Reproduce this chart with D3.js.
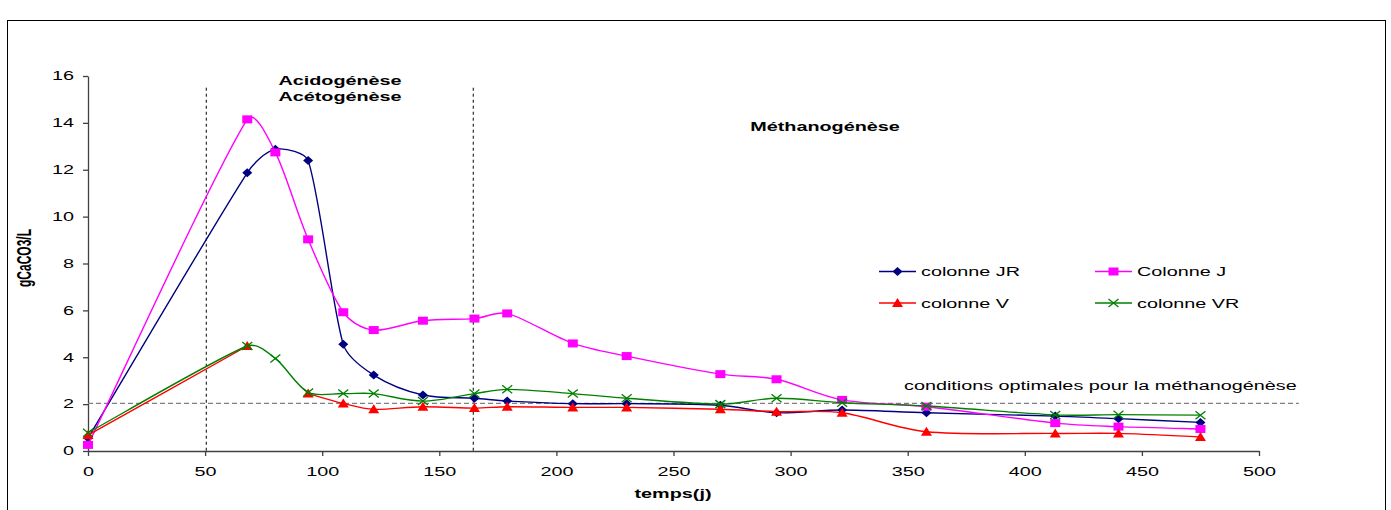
<!DOCTYPE html>
<html>
<head>
<meta charset="utf-8">
<script src="https://cdn.jsdelivr.net/npm/d3@7"></script>
<style>
  body { margin: 0; background: #fff; }
  svg { font-family: "Liberation Sans", Arial, sans-serif; }
</style>
</head>
<body>
<div id="chart"></div>
<script>
// temps (jours) et concentrations (gCaCO3/L)
var jours = [0, 68, 80, 94, 109, 122, 143, 165, 179, 207, 230, 270, 294, 322, 358, 413, 440, 475];
var colonneJR = [0.55, 11.87, 12.87, 12.39, 4.55, 3.24, 2.39, 2.25, 2.13, 2.02, 2.02, 1.95, 1.63, 1.75, 1.63, 1.49, 1.38, 1.22];
var colonneJ = [0.26, 14.15, 12.74, 9.03, 5.92, 5.16, 5.56, 5.65, 5.87, 4.59, 4.05, 3.28, 3.06, 2.18, 1.89, 1.19, 1.04, 0.94];
var colonneV = [0.68, 4.48, null, 2.45, 2.03, 1.78, 1.89, 1.83, 1.89, 1.86, 1.86, 1.78, 1.68, 1.63, 0.82, 0.75, 0.75, 0.60];
var colonneVR = [0.78, 4.48, 3.95, 2.50, 2.45, 2.45, 2.13, 2.45, 2.63, 2.45, 2.25, 2.00, 2.25, 2.06, 1.92, 1.54, 1.55, 1.53];

var xTicks = [0, 50, 100, 150, 200, 250, 300, 350, 400, 450, 500];
var yTicks = [0, 2, 4, 6, 8, 10, 12, 14, 16];

// limites des phases et seuil optimal
var phases = [50.5, 164.5];
var seuilOptimal = 2.03;
var seuilFin = 517;

var series = [
	{nom: "colonne JR", valeurs: colonneJR, couleur: "#000080", marqueur: "losange"},
	{nom: "Colonne J", valeurs: colonneJ, couleur: "#FF00FF", marqueur: "carre"},
	{nom: "colonne V", valeurs: colonneV, couleur: "#FF0000", marqueur: "triangle"},
	{nom: "colonne VR", valeurs: colonneVR, couleur: "#008000", marqueur: "croix"}
];

var W = 1391, H = 510;
var SX = 1.65; // le graphique d'origine est étiré horizontalement

var svg = d3.select("#chart").append("svg")
	.attr("width", W)
	.attr("height", H);

// cadre du graphique
svg.append("rect")
	.attr("x", 7.5).attr("y", 20.5)
	.attr("width", 1378).attr("height", 520)
	.attr("fill", "none")
	.attr("stroke", "#000")
	.attr("stroke-width", 1);

var x = d3.scaleLinear().domain([0, 500]).range([88, 1259]);
var y = d3.scaleLinear().domain([0, 16]).range([451, 76]);

function texte(px, py, str, opts) {
	opts = opts || {};
	return svg.append("text")
		.attr("transform", "translate(" + px + "," + py + ") scale(" + SX + ",1)")
		.attr("text-anchor", opts.anchor || "start")
		.attr("font-size", opts.size || 12)
		.attr("font-weight", opts.bold ? "bold" : "normal")
		.attr("fill", "#000")
		.text(str);
}

// axes
var axeX = svg.append("g")
	.attr("transform", "translate(0," + y(0) + ")")
	.call(d3.axisBottom(x).tickValues(xTicks).tickSize(5).tickPadding(11).tickSizeOuter(0));
var axeY = svg.append("g")
	.attr("transform", "translate(" + x(0) + ",0)")
	.call(d3.axisLeft(y).tickValues(yTicks).tickSize(5).tickPadding(3.5).tickSizeOuter(0));

[axeX, axeY].forEach(function(a) {
	a.select(".domain").attr("stroke", "#404040").attr("stroke-width", 1.3);
	a.selectAll(".tick line").attr("stroke", "#404040").attr("stroke-width", 1.3);
	a.selectAll(".tick text")
		.attr("font-size", 12)
		.attr("font-family", "Liberation Sans, Arial, sans-serif")
		.attr("fill", "#000")
		.attr("transform", "scale(" + SX + ",1)");
});

// lignes de séparation des phases
phases.forEach(function(p) {
	svg.append("line")
		.attr("x1", x(p)).attr("x2", x(p))
		.attr("y1", y(15.5)).attr("y2", y(0))
		.attr("stroke", "#000")
		.attr("stroke-width", 1)
		.attr("stroke-dasharray", "3,3");
});

// seuil des conditions optimales
svg.append("line")
	.attr("x1", x(0)).attr("x2", x(seuilFin))
	.attr("y1", y(seuilOptimal)).attr("y2", y(seuilOptimal))
	.attr("stroke", "#808080")
	.attr("stroke-width", 1.3)
	.attr("stroke-dasharray", "5,3");

// lissage type tableur : Bézier de Catmull-Rom (1/6) dont les poignées
// sont limitées par la longueur du segment, calculé sur le repère non étiré
function lissage(pts) {
	if (pts.length < 2) return "";
	var k = 1 / 3;
	var d = "M" + pts[0][0] + "," + pts[0][1];
	for (var i = 0; i < pts.length - 1; i++) {
		var p0 = pts[i - 1] || pts[i];
		var p1 = pts[i];
		var p2 = pts[i + 1];
		var p3 = pts[i + 2] || pts[i + 1];
		var t1 = [(p2[0] - p0[0]) / 6 / SX, (p2[1] - p0[1]) / 6];
		var t2 = [(p3[0] - p1[0]) / 6 / SX, (p3[1] - p1[1]) / 6];
		var L = Math.hypot((p2[0] - p1[0]) / SX, p2[1] - p1[1]);
		[t1, t2].forEach(function(t) {
			var l = Math.hypot(t[0], t[1]);
			if (l > L * k) {
				t[0] *= L * k / l;
				t[1] *= L * k / l;
			}
		});
		d += "C" + (p1[0] + t1[0] * SX) + "," + (p1[1] + t1[1]) + " " +
			(p2[0] - t2[0] * SX) + "," + (p2[1] - t2[1]) + " " +
			p2[0] + "," + p2[1];
	}
	return d;
}

function dessinerMarqueur(g, type, couleur, px, py) {
	if (type == "losange") {
		g.append("path")
			.attr("d", "M" + px + "," + (py - 4.5) + "L" + (px + 5) + "," + py + "L" + px + "," + (py + 4.5) + "L" + (px - 5) + "," + py + "Z")
			.attr("fill", couleur);
	} else if (type == "carre") {
		g.append("rect")
			.attr("x", px - 5).attr("y", py - 4)
			.attr("width", 10).attr("height", 8)
			.attr("fill", couleur);
	} else if (type == "triangle") {
		g.append("path")
			.attr("d", "M" + px + "," + (py - 5) + "L" + (px + 5.5) + "," + (py + 4) + "L" + (px - 5.5) + "," + (py + 4) + "Z")
			.attr("fill", couleur);
	} else if (type == "croix") {
		g.append("path")
			.attr("d", "M" + (px - 5) + "," + (py - 4) + "L" + (px + 5) + "," + (py + 4) + "M" + (px - 5) + "," + (py + 4) + "L" + (px + 5) + "," + (py - 4))
			.attr("stroke", couleur)
			.attr("stroke-width", 1.3)
			.attr("fill", "none");
	}
}

series.forEach(function(s) {
	var g = svg.append("g");
	// découpage aux valeurs manquantes
	var troncons = [[]];
	jours.forEach(function(j, i) {
		var v = s.valeurs[i];
		if (v == null) {
			troncons.push([]);
		} else {
			troncons[troncons.length - 1].push([x(j), y(v)]);
		}
	});
	troncons.forEach(function(t) {
		if (t.length < 2) return;
		g.append("path")
			.attr("d", lissage(t))
			.attr("fill", "none")
			.attr("stroke", s.couleur)
			.attr("stroke-width", 1.4);
	});
	jours.forEach(function(j, i) {
		if (s.valeurs[i] == null) return;
		dessinerMarqueur(g, s.marqueur, s.couleur, x(j), y(s.valeurs[i]));
	});
});

// légende
var legende = [
	{s: series[0], lx: 879, ly: 271.5},
	{s: series[1], lx: 1095, ly: 271.5},
	{s: series[2], lx: 879, ly: 303},
	{s: series[3], lx: 1095, ly: 303}
];
legende.forEach(function(l) {
	var g = svg.append("g");
	g.append("line")
		.attr("x1", l.lx).attr("x2", l.lx + 37)
		.attr("y1", l.ly).attr("y2", l.ly)
		.attr("stroke", l.s.couleur)
		.attr("stroke-width", 1.4);
	dessinerMarqueur(g, l.s.marqueur, l.s.couleur, l.lx + 18.5, l.ly);
	texte(l.lx + 42, l.ly + 4.5, l.s.nom);
});

// annotations
texte(340, 84.5, "Acidogénèse", {anchor: "middle", bold: true});
texte(340, 100.5, "Acétogénèse", {anchor: "middle", bold: true});
texte(825, 131, "Méthanogénèse", {anchor: "middle", bold: true});
texte(904, 390, "conditions optimales pour la méthanogénèse");

// titres des axes
texte(673, 498, "temps(j)", {anchor: "middle", bold: true});
svg.append("text")
	.attr("transform", "translate(31,258) scale(" + SX + ",1) rotate(-90)")
	.attr("text-anchor", "middle")
	.attr("font-size", 12)
	.attr("font-weight", "bold")
	.text("gCaCO3/L");
</script>
</body>
</html>
